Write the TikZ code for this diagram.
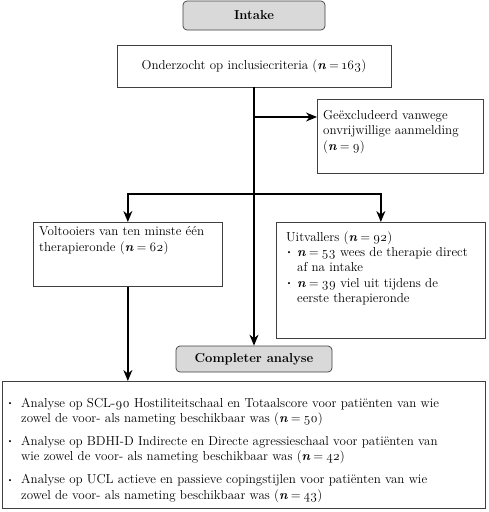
\documentclass[tikz,border=0pt]{standalone}
\usepackage{fontspec}
\setmainfont{Latin Modern Roman}[Numbers=OldStyle]
\usetikzlibrary{arrows.meta,calc}
\newcommand{\nn}{\textbf{\textit{n}}\hspace{0.22em}=\hspace{0.22em}}
\newcommand{\bul}{\raisebox{0.25ex}{\scalebox{0.6}{\textbullet}}}
\begin{document}
\begin{tikzpicture}[x=1pt,y=-1pt,
  every node/.style={font=\fontsize{13}{15.6}\selectfont},
  box/.style={draw=black!75, line width=0.7pt, rectangle, inner sep=0pt, anchor=north west},
  pill/.style={draw=black!75, line width=0.7pt, fill=black!15, rounded corners=4pt, inner sep=0pt, font=\fontsize{13}{15.6}\selectfont\bfseries},
  txt/.style={inner sep=0pt, anchor=north west, align=left},
  arr/.style={draw=black, line width=1.3pt, -{Stealth[length=11pt,width=9pt]}},
  ln/.style={draw=black, line width=1.3pt}]
\useasboundingbox (0,0) rectangle (488,512);
% boxes
\node[pill, minimum width=142pt, minimum height=29pt] (intake) at (254,15.5) {Intake};
\node[box, minimum width=274pt, minimum height=42pt, anchor=center] (ond) at (254,66) {Onderzocht op inclusiecriteria (\nn163)};
\node[box, minimum width=166pt, minimum height=74pt] (excl) at (317,99) {};
\node[txt] (exclt) at (323,110) {Geëxcludeerd vanwege\\onvrijwillige aanmelding\\(\nn9)};
\node[box, minimum width=189pt, minimum height=64pt] (volt) at (33,222) {};
\node[txt] (voltt) at (39,226.5) {Voltooiers van ten minste één\\therapieronde (\nn62)};
\node[box, minimum width=209pt, minimum height=116pt] (uit) at (276,222) {};
\node[txt] (uitt) at (286,232) {Uitvallers (\nn92)\\[-1pt]
  \begin{tabular}{@{}l@{\hspace{5pt}}l@{}}
  \bul & \nn53 wees de therapie direct\\
       & af na intake\\
  \bul & \nn39 viel uit tijdens de\\
       & eerste therapieronde
  \end{tabular}};
\node[pill, minimum width=156pt, minimum height=26pt] (comp) at (254,359) {Completer analyse};
\node[box, minimum width=483pt, minimum height=127pt] (bot) at (2,381) {};
\node[txt] (bott) at (7,396) {\begin{tabular}{@{}l@{\hspace{8pt}}l@{}}
  \bul & Analyse op SCL-90 Hostiliteitschaal en Totaalscore voor patiënten van wie\\
       & zowel de voor- als nameting beschikbaar was (\nn50)\\[7pt]
  \bul & Analyse op BDHI-D Indirecte en Directe agressieschaal voor patiënten van\\
       & wie zowel de voor- als nameting beschikbaar was (\nn42)\\[7pt]
  \bul & Analyse op UCL actieve en passieve copingstijlen voor patiënten van wie\\
       & zowel de voor- als nameting beschikbaar was (\nn43)
  \end{tabular}};
% connectors
\coordinate (c1) at (ond.south |- 0,117);
\coordinate (c2) at (ond.south |- 0,194);
\draw[arr] (ond.south) -- (comp.north);
\draw[arr] (c1) -- (c1 -| excl.west);
\draw[arr] (c2) -| (volt.north);
\draw[arr] (c2) -| (uit.north);
\draw[arr] (volt.south) -- (volt.south |- bot.north);
\end{tikzpicture}
\end{document}
